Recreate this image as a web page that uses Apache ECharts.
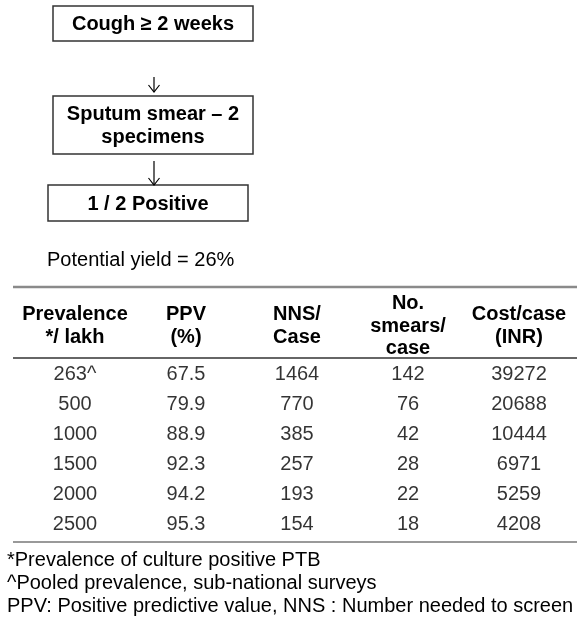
<!DOCTYPE html>
<html>
<head>
<meta charset="utf-8">
<script src="https://cdn.jsdelivr.net/npm/echarts@6/dist/echarts.min.js"></script>
<style>
    html, body { margin: 0; padding: 0; background: #fff; }
    #main { width: 584px; height: 626px; }
</style>
</head>
<body>
<div id="main"></div>
<script>
// 流程图的步骤
var steps       = ['Cough \u2265 2 weeks', 'Sputum smear \u2013 2\nspecimens', '1 / 2 Positive'];
var yieldText   = 'Potential yield = 26%';
// 表头
var headers     = ['Prevalence\n*/ lakh', 'PPV\n(%)', 'NNS/\nCase', 'No.\nsmears/\ncase', 'Cost/case\n(INR)'];
// 表格数据（每列一个数组）
var prevalence  = [263, 500, 1000, 1500, 2000, 2500];
var prevMark    = ['^', '', '', '', '', ''];
var ppv         = [67.5, 79.9, 88.9, 92.3, 94.2, 95.3];
var nnsCase     = [1464, 770, 385, 257, 193, 154];
var smearsCase  = [142, 76, 42, 28, 22, 18];
var costCase    = [39272, 20688, 10444, 6971, 5259, 4208];
// 脚注
var footnotes   = [
    '*Prevalence of culture positive PTB',
    '^Pooled prevalence, sub-national surveys',
    'PPV: Positive predictive value, NNS : Number needed to screen'
];

var FONT = '"Liberation Sans", Arial, sans-serif';

// 把各列封装成 [列, 行, 文字] 的数组
function pottCells() {
    var cols = [
        prevalence.map(function (v, i) { return v + prevMark[i]; }),
        ppv.map(function (v) { return v.toFixed(1); }),
        nnsCase.map(String),
        smearsCase.map(String),
        costCase.map(String)
    ];
    var result = [];
    for (var c = 0; c < cols.length; c++) {
        for (var r = 0; r < cols[c].length; r++) {
            result.push([c, r, cols[c][r]]);
        }
    }
    return result;
}

// 流程图的框和箭头
function flowGraphic() {
    var boxes = [
        { x: 53, y: 6, w: 200, h: 35 },
        { x: 53, y: 96, w: 200, h: 58 },
        { x: 48, y: 185, w: 200, h: 36 }
    ];
    var arrows = [
        { x: 154, y1: 77, y2: 92 },
        { x: 154, y1: 161, y2: 185 }
    ];
    var els = [];
    for (var i = 0; i < boxes.length; i++) {
        var b = boxes[i];
        els.push({
            type: 'rect',
            shape: { x: b.x, y: b.y, width: b.w, height: b.h },
            style: { fill: '#fff', stroke: '#333', lineWidth: 1.5 }
        });
        els.push({
            type: 'text',
            x: b.x + b.w / 2,
            y: b.y + b.h / 2 + 1,
            style: {
                text: steps[i],
                align: 'center',
                verticalAlign: 'middle',
                font: 'bold 20px ' + FONT,
                lineHeight: 23,
                fill: '#000'
            }
        });
    }
    for (var j = 0; j < arrows.length; j++) {
        var a = arrows[j];
        els.push({
            type: 'line',
            shape: { x1: a.x, y1: a.y1, x2: a.x, y2: a.y2 },
            style: { stroke: '#000', lineWidth: 1.2 }
        });
        els.push({
            type: 'polyline',
            shape: { points: [[a.x - 5.5, a.y2 - 7], [a.x, a.y2], [a.x + 5.5, a.y2 - 7]] },
            style: { stroke: '#000', lineWidth: 1.2, fill: null }
        });
    }
    return els;
}

var myChart = echarts.init(document.getElementById('main'), null, { renderer: 'canvas' });

var graphicEls = flowGraphic();
graphicEls.push({
    type: 'text', x: 47, y: 260,
    style: { text: yieldText, font: '20px ' + FONT, fill: '#000', verticalAlign: 'middle' }
});
// 表格横线
graphicEls.push({ type: 'line', shape: { x1: 13, y1: 287, x2: 577, y2: 287 }, style: { stroke: '#8a8a8a', lineWidth: 2.5 } });
graphicEls.push({ type: 'line', shape: { x1: 13, y1: 358, x2: 577, y2: 358 }, style: { stroke: '#666', lineWidth: 2 } });
graphicEls.push({ type: 'line', shape: { x1: 13, y1: 542, x2: 577, y2: 542 }, style: { stroke: '#777', lineWidth: 1.5 } });
for (var k = 0; k < footnotes.length; k++) {
    graphicEls.push({
        type: 'text', x: 7, y: 560 + k * 23,
        style: { text: footnotes[k], font: '20px ' + FONT, fill: '#000', verticalAlign: 'middle' }
    });
}

var option = {
    backgroundColor: '#fff',
    animation: false,
    grid: { left: 19.5, width: 555, top: 359, height: 180 },
    xAxis: {
        type: 'category',
        position: 'top',
        data: headers,
        axisLine: { show: false },
        axisTick: { show: false },
        splitLine: { show: false },
        axisLabel: {
            interval: 0,
            margin: 33,
            verticalAlign: 'middle',
            fontFamily: FONT,
            fontWeight: 'bold',
            fontSize: 20,
            lineHeight: 22.5,
            color: '#000'
        }
    },
    yAxis: {
        type: 'category',
        inverse: true,
        data: prevalence.map(String),
        show: false
    },
    series: [{
        type: 'scatter',
        symbolSize: 0,
        data: pottCells(),
        label: {
            show: true,
            position: 'inside',
            formatter: function (p) { return p.value[2]; },
            fontFamily: FONT,
            fontSize: 20,
            color: '#000'
        }
    }],
    graphic: graphicEls
};
// 使用刚指定的配置项和数据显示图表。
myChart.setOption(option);
</script>
</body>
</html>
